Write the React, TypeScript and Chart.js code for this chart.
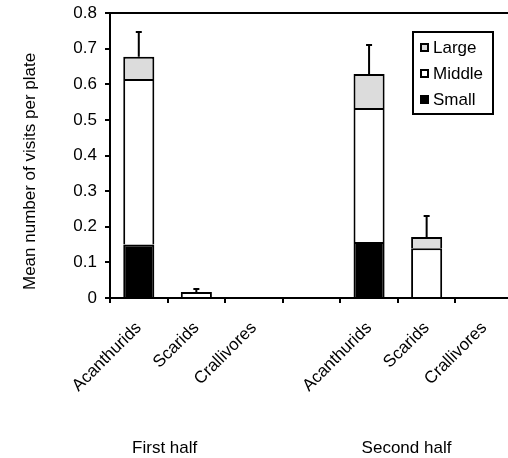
import React, { useEffect, useRef } from "react";
import { Chart, registerables } from "chart.js";

Chart.register(...registerables);

const categories = ["Acanthurids", "Scarids", "Crallivores", "", "Acanthurids", "Scarids", "Crallivores"];
const smallValues = [0.15, 0, 0, null, 0.157, 0, 0];
const middleValues = [0.465, 0.017, 0, null, 0.376, 0.14, 0];
const largeValues = [0.062, 0, 0, null, 0.096, 0.031, 0];
const errorTops = [0.747, 0.025, null, null, 0.71, 0.23, null];
const yTickValues = [0, 0.1, 0.2, 0.3, 0.4, 0.5, 0.6, 0.7, 0.8];
const groupLabels = ["First half", "Second half"];
const groupPositions = [0.45, 4.65];
const yTitle = "Mean number of visits per plate";
const seriesNames = ["Small", "Middle", "Large"];
const seriesColors = ["#000000", "#ffffff", "#dcdcdc"];

const FONT = "'Liberation Sans', Arial, sans-serif";
const FS = 17;

const extrasPlugin = {
  id: "extras",
  afterDraw(chart: any) {
    const ctx = chart.ctx;
    const { chartArea } = chart;
    const xs = chart.scales.x;
    const ys = chart.scales.y;
    ctx.save();
    // top frame line
    ctx.strokeStyle = "#000";
    ctx.lineWidth = 2;
    ctx.beginPath();
    ctx.moveTo(chartArea.left, chartArea.top);
    ctx.lineTo(chartArea.right, chartArea.top);
    ctx.stroke();
    // error bars (upper only)
    const lastMeta = chart.getDatasetMeta(2);
    errorTops.forEach((e, i) => {
      if (e === null || e === undefined) return;
      const sum = (smallValues[i] || 0) + (middleValues[i] || 0) + (largeValues[i] || 0);
      const x = lastMeta.data[i].x;
      const y0 = ys.getPixelForValue(sum);
      const y1 = ys.getPixelForValue(e);
      ctx.beginPath();
      ctx.moveTo(x, y0);
      ctx.lineTo(x, y1);
      ctx.moveTo(x - 3, y1);
      ctx.lineTo(x + 3, y1);
      ctx.stroke();
    });
    // legend
    const bw = 80, bh = 82;
    const bx = chartArea.right - 20 - bw;
    const by = chartArea.top + 19;
    ctx.fillStyle = "#fff";
    ctx.fillRect(bx, by, bw, bh);
    ctx.strokeRect(bx, by, bw, bh);
    ctx.font = `${FS}px ${FONT}`;
    ctx.textBaseline = "middle";
    ctx.textAlign = "left";
    const order = [2, 1, 0];
    order.forEach((di, k) => {
      const cy = by + 15.5 + k * 26;
      const sx = bx + 7;
      ctx.fillStyle = seriesColors[di];
      ctx.fillRect(sx, cy - 4.5, 9, 9);
      ctx.lineWidth = 2;
      ctx.strokeStyle = "#000";
      ctx.strokeRect(sx + 1, cy - 3.5, 7, 7);
      ctx.fillStyle = "#000";
      ctx.fillText(chart.data.datasets[di].label, sx + 13, cy + 1);
    });
    // group labels
    ctx.textAlign = "center";
    ctx.textBaseline = "alphabetic";
    groupLabels.forEach((g, i) => {
      ctx.fillText(g, xs.getPixelForValue(groupPositions[i]), 453);
    });
    // y title
    ctx.save();
    ctx.translate(30, chartArea.bottom - 8);
    ctx.rotate(-Math.PI / 2);
    ctx.textAlign = "left";
    ctx.textBaseline = "middle";
    ctx.fillText(yTitle, 0, 0);
    ctx.restore();
    ctx.restore();
  },
};

export default function App() {
  const ref = useRef<HTMLCanvasElement | null>(null);
  useEffect(() => {
    document.body.style.margin = "0";
    if (!ref.current) return;
    const mk = (i: number, data: any[]) => ({
      label: seriesNames[i],
      data,
      backgroundColor: seriesColors[i],
      borderColor: "#000",
      borderWidth: 2,
      categoryPercentage: 1,
      barPercentage: 0.54,
    });
    const chart = new Chart(ref.current, {
      type: "bar",
      data: {
        labels: categories,
        datasets: [mk(0, smallValues), mk(1, middleValues), mk(2, largeValues)],
      },
      plugins: [extrasPlugin],
      options: {
        animation: false,
        responsive: false,
        devicePixelRatio: 1,
        layout: { padding: { top: 13, left: 0, right: 0, bottom: 0 } },
        plugins: { legend: { display: false }, tooltip: { enabled: false } },
        scales: {
          x: {
            stacked: true,
            ticks: {
              color: "#000",
              font: { family: FONT, size: FS },
              maxRotation: 45,
              minRotation: 45,
              autoSkip: false,
              padding: 15,
            },
            grid: { drawOnChartArea: false, offset: true, tickLength: 5, color: "#000", lineWidth: 2 },
            border: { display: true, color: "#000", width: 2 },
            afterFit: (s: any) => {
              s.height = 160;
              s.paddingLeft = 0;
              s.paddingRight = 0;
            },
          },
          y: {
            stacked: true,
            min: 0,
            max: 0.8,
            afterBuildTicks: (s: any) => {
              s.ticks = yTickValues.map((v) => ({ value: v }));
            },
            ticks: {
              color: "#000",
              font: { family: FONT, size: FS },
              padding: 8,
              callback: (v: any) => (Number(v) === 0 ? "0" : Number(v).toFixed(1)),
            },
            grid: { drawOnChartArea: false, tickLength: 5, color: "#000", lineWidth: 2 },
            border: { display: true, color: "#000", width: 2 },
            afterFit: (s: any) => {
              s.width = 110;
              s.paddingTop = 0;
              s.paddingBottom = 0;
            },
          },
        },
      },
    } as any);
    return () => chart.destroy();
  }, []);
  return (
    <div style={{ width: 508, height: 458, overflow: "hidden", background: "#fff" }}>
      <canvas ref={ref} width={513} height={458} style={{ display: "block", width: 513, height: 458 }} />
    </div>
  );
}
